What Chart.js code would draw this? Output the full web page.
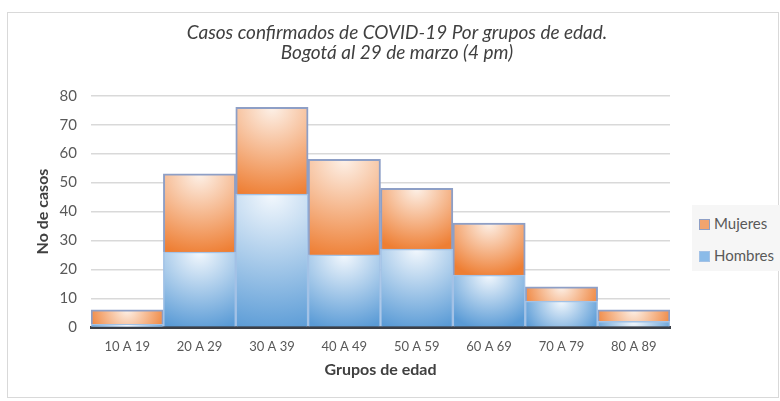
<!DOCTYPE html>
<html>
<head>
<meta charset="utf-8">
<script src="https://cdn.jsdelivr.net/npm/chart.js@4.4.1/dist/chart.umd.min.js"></script>
<style>
  html, body { margin: 0; padding: 0; background: #ffffff; }
  #wrap { position: relative; width: 780px; height: 401px; }
  #leyenda {
    position: absolute; left: 692px; top: 205px; width: 88px; height: 66px;
    background: #f6f6f6; font-family: Lato, 'Open Sans', sans-serif; font-size: 15px; color: #595959;
  }
  #leyenda div { position: absolute; left: 7px; height: 18px; line-height: 18px; white-space: nowrap; }
  #leyenda span { display: inline-block; width: 9px; height: 9px; margin-right: 4px; vertical-align: -1px; }
</style>
</head>
<body>
<div id="wrap">
  <canvas id="grafica" width="780" height="401"></canvas>
  <div id="leyenda"></div>
</div>
<script>
// datos
const grupos = ['10 A 19', '20 A 29', '30 A 39', '40 A 49', '50 A 59', '60 A 69', '70 A 79', '80 A 89'];
const hombres = [1, 26, 46, 25, 27, 18, 9, 2];
const mujeres = [5, 27, 30, 33, 21, 18, 5, 4];
const yMin = 0;
const yMax = 80;
const yPaso = 10;

const fuente = "Lato, 'Open Sans', sans-serif";

// relleno degradado tipo Excel, claro arriba al centro y oscuro abajo
function relleno(claro, oscuro) {
  return function (context) {
    const chart = context.chart;
    const scales = chart.scales;
    if (!chart.chartArea || !scales.x || !scales.y) return oscuro;
    const i = context.dataIndex;
    const ds = context.datasetIndex;
    let base = 0;
    for (let d = 0; d < ds; d++) base += chart.data.datasets[d].data[i];
    const tope = base + chart.data.datasets[ds].data[i];
    const yTope = scales.y.getPixelForValue(tope);
    const yBase = scales.y.getPixelForValue(base);
    const xc = scales.x.getPixelForValue(i);
    const ancho = scales.x.width / grupos.length;
    const r = Math.max(yBase - yTope, ancho * 0.55) * 1.05;
    const g = chart.ctx.createRadialGradient(xc, yTope, 0, xc, yTope, r);
    g.addColorStop(0, claro);
    g.addColorStop(1, oscuro);
    return g;
  };
}

const marco = {
  id: 'marco',
  beforeDraw(chart) {
    const ctx = chart.ctx;
    ctx.save();
    ctx.strokeStyle = '#d9d9d9';
    ctx.lineWidth = 1;
    ctx.strokeRect(7.5, 12.5, 771, 385);
    ctx.restore();
  }
};

const grafica = new Chart(document.getElementById('grafica'), {
  type: 'bar',
  data: {
    labels: grupos,
    datasets: [
      {
        label: 'Hombres',
        data: hombres,
        backgroundColor: relleno('#f3f8fd', '#5a9bd6'),
        borderColor: '#a3c2e6',
        borderWidth: 1.5,
        categoryPercentage: 1,
        barPercentage: 1
      },
      {
        label: 'Mujeres',
        data: mujeres,
        backgroundColor: relleno('#fdf1e8', '#ee7e33'),
        borderColor: '#8e9fc6',
        borderWidth: 2,
        categoryPercentage: 1,
        barPercentage: 1
      }
    ]
  },
  options: {
    responsive: false,
    animation: false,
    layout: { padding: { left: 14, right: 0, top: 0, bottom: 22 } },
    plugins: {
      title: {
        display: true,
        text: ['Casos confirmados de COVID-19 Por grupos de edad.', 'Bogotá al 29 de marzo (4 pm)'],
        color: '#404040',
        font: { family: fuente, size: 19, style: 'italic', weight: 'normal', lineHeight: 1.1 },
        padding: { top: 22, bottom: 32 }
      },
      legend: { display: false },
      tooltip: { enabled: false }
    },
    scales: {
      x: {
        stacked: true,
        grid: { display: false },
        border: { color: '#3b3f47', width: 3 },
        ticks: { color: '#595959', font: { family: fuente, size: 13 }, padding: 4 },
        title: {
          display: true,
          text: 'Grupos de edad',
          color: '#404040',
          font: { family: fuente, size: 16, weight: 'bold' },
          padding: { top: 1, bottom: 0 }
        }
      },
      y: {
        stacked: true,
        min: yMin,
        max: yMax,
        grid: { color: '#d9d9d9', lineWidth: 1.5, drawTicks: false },
        border: { display: false },
        ticks: { stepSize: yPaso, color: '#595959', font: { family: fuente, size: 15 }, padding: 14 },
        title: {
          display: true,
          text: 'No de casos',
          color: '#404040',
          font: { family: fuente, size: 16, weight: 'bold' },
          padding: { top: 19, bottom: 0 }
        },
        afterFit: function (scale) { scale.width = 77; }
      },
      derecha: {
        position: 'right',
        display: true,
        grid: { display: false },
        border: { display: false },
        ticks: { display: false },
        afterFit: function (scale) { scale.width = 110; }
      }
    }
  },
  plugins: [marco]
});

// leyenda a la derecha, Mujeres arriba como en el original
const muestras = [['Mujeres', '#f2a46f', '#8e9fc6'], ['Hombres', '#8bbbe8', '#a3c2e6']];
const leyenda = document.getElementById('leyenda');
muestras.forEach(function (m, k) {
  const fila = document.createElement('div');
  fila.style.top = (9 + k * 32) + 'px';
  fila.innerHTML = '<span style="background:' + m[1] + ';border:1px solid ' + m[2] + '"></span>' + m[0];
  leyenda.appendChild(fila);
});
</script>
</body>
</html>
